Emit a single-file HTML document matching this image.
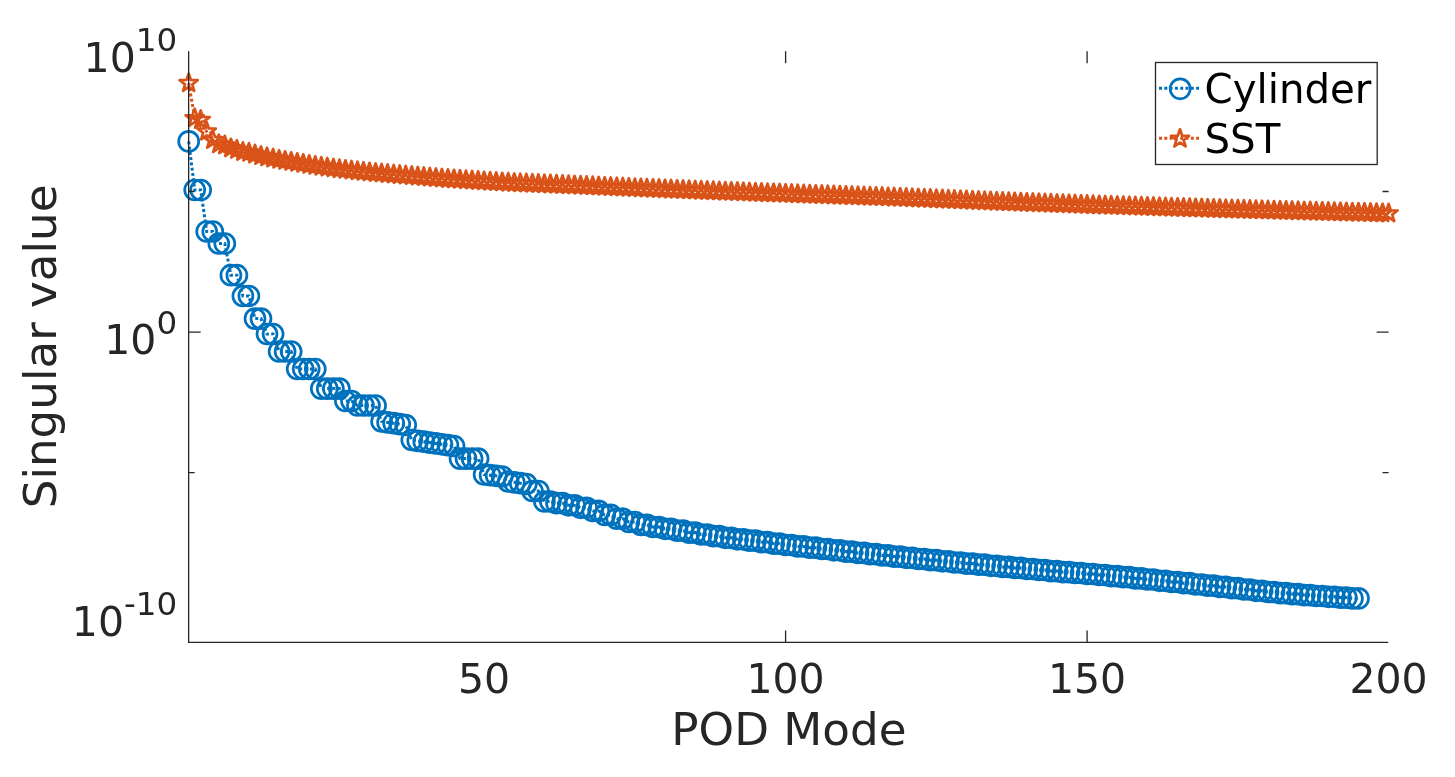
<!DOCTYPE html>
<html lang="en"><head><meta charset="utf-8"><title>Singular values vs POD Mode</title>
<style>html,body{margin:0;padding:0;background:#fff}body{width:1455px;height:777px;overflow:hidden}svg{display:block}text{font-family:"DejaVu Sans","Liberation Sans",sans-serif}</style>
</head><body>
<svg width="1455" height="777" viewBox="0 0 1455 777">
<rect width="1455" height="777" fill="#fff"/>
<g fill="none" stroke="#0072BD" stroke-width="2.7">
<polyline stroke-width="3" stroke-dasharray="3 2.3" points="188.7,141.4 194.7,190.0 200.7,190.0 206.7,231.5 212.8,231.5 218.8,243.5 224.8,243.5 230.9,275.2 236.9,275.2 242.9,296.0 248.9,296.0 255.0,318.6 261.0,318.6 267.0,334.0 273.1,334.0 279.1,351.5 285.1,351.5 291.2,351.5 297.2,369.0 303.2,369.0 309.2,369.0 315.3,369.0 321.3,388.6 327.3,388.6 333.4,388.6 339.4,388.6 345.4,401.0 351.5,401.0 357.5,405.5 363.5,405.5 369.5,405.5 375.6,405.5 381.6,421.5 387.6,422.4 393.7,423.2 399.7,424.1 405.7,425.0 411.8,440.0 417.8,440.9 423.8,441.7 429.8,442.6 435.9,443.4 441.9,444.3 447.9,445.1 454.0,446.0 460.0,458.6 466.0,458.6 472.1,458.6 478.1,458.6 484.1,474.5 490.1,475.2 496.2,475.8 502.2,476.5 508.2,481.5 514.3,482.3 520.3,483.2 526.3,484.0 532.4,491.0 538.4,491.0 544.4,501.5 550.4,501.5 556.5,503.2 562.5,503.2 568.5,505.3 574.6,505.3 580.6,507.8 586.6,507.8 592.7,510.9 598.7,510.9 604.7,514.9 610.7,514.9 616.8,518.7 622.8,518.7 628.8,522.0 634.9,522.0 640.9,524.9 646.9,524.9 653.0,527.0 659.0,527.0 665.0,528.8 671.0,528.8 677.1,530.6 683.1,530.6 689.1,532.6 695.2,532.6 701.2,534.5 707.2,534.5 713.3,536.2 719.3,536.2 725.3,537.8 731.3,537.8 737.4,539.3 743.4,539.3 749.4,540.7 755.5,540.7 761.5,542.1 767.5,542.1 773.6,543.6 779.6,543.6 785.6,545.0 791.6,545.0 797.7,546.4 803.7,546.4 809.7,547.7 815.8,547.7 821.8,549.0 827.8,549.0 833.8,550.3 839.9,550.3 845.9,551.6 851.9,551.6 858.0,552.9 864.0,552.9 870.0,554.1 876.1,554.1 882.1,555.4 888.1,555.4 894.1,556.6 900.2,556.6 906.2,557.8 912.2,557.8 918.3,559.0 924.3,559.0 930.3,560.2 936.4,560.2 942.4,561.3 948.4,561.3 954.4,562.5 960.5,562.5 966.5,563.6 972.5,563.6 978.6,564.7 984.6,564.7 990.6,565.8 996.7,565.8 1002.7,566.9 1008.7,566.9 1014.7,567.9 1020.8,567.9 1026.8,569.0 1032.8,569.0 1038.9,570.0 1044.9,570.0 1050.9,571.1 1057.0,571.1 1063.0,572.1 1069.0,572.1 1075.0,573.0 1081.1,573.0 1087.1,574.0 1093.1,574.0 1099.2,575.0 1105.2,575.0 1111.2,576.1 1117.3,576.1 1123.3,577.2 1129.3,577.2 1135.3,578.4 1141.4,578.4 1147.4,579.5 1153.4,579.5 1159.5,580.8 1165.5,580.8 1171.5,582.0 1177.6,582.0 1183.6,583.2 1189.6,583.2 1195.6,584.5 1201.7,584.5 1207.7,585.7 1213.7,585.7 1219.8,586.9 1225.8,586.9 1231.8,588.2 1237.9,588.2 1243.9,589.5 1249.9,589.5 1255.9,590.8 1262.0,590.8 1268.0,592.0 1274.0,592.0 1280.1,593.1 1286.1,593.1 1292.1,594.1 1298.2,594.1 1304.2,595.1 1310.2,595.1 1316.2,596.0 1322.3,596.0 1328.3,596.8 1334.3,596.8 1340.4,597.6 1346.4,597.6 1352.4,598.4 1358.5,598.4"/>
<circle cx="188.7" cy="141.4" r="10.0"/>
<circle cx="194.7" cy="190.0" r="10.0"/>
<circle cx="200.7" cy="190.0" r="10.0"/>
<circle cx="206.7" cy="231.5" r="10.0"/>
<circle cx="212.8" cy="231.5" r="10.0"/>
<circle cx="218.8" cy="243.5" r="10.0"/>
<circle cx="224.8" cy="243.5" r="10.0"/>
<circle cx="230.9" cy="275.2" r="10.0"/>
<circle cx="236.9" cy="275.2" r="10.0"/>
<circle cx="242.9" cy="296.0" r="10.0"/>
<circle cx="248.9" cy="296.0" r="10.0"/>
<circle cx="255.0" cy="318.6" r="10.0"/>
<circle cx="261.0" cy="318.6" r="10.0"/>
<circle cx="267.0" cy="334.0" r="10.0"/>
<circle cx="273.1" cy="334.0" r="10.0"/>
<circle cx="279.1" cy="351.5" r="10.0"/>
<circle cx="285.1" cy="351.5" r="10.0"/>
<circle cx="291.2" cy="351.5" r="10.0"/>
<circle cx="297.2" cy="369.0" r="10.0"/>
<circle cx="303.2" cy="369.0" r="10.0"/>
<circle cx="309.2" cy="369.0" r="10.0"/>
<circle cx="315.3" cy="369.0" r="10.0"/>
<circle cx="321.3" cy="388.6" r="10.0"/>
<circle cx="327.3" cy="388.6" r="10.0"/>
<circle cx="333.4" cy="388.6" r="10.0"/>
<circle cx="339.4" cy="388.6" r="10.0"/>
<circle cx="345.4" cy="401.0" r="10.0"/>
<circle cx="351.5" cy="401.0" r="10.0"/>
<circle cx="357.5" cy="405.5" r="10.0"/>
<circle cx="363.5" cy="405.5" r="10.0"/>
<circle cx="369.5" cy="405.5" r="10.0"/>
<circle cx="375.6" cy="405.5" r="10.0"/>
<circle cx="381.6" cy="421.5" r="10.0"/>
<circle cx="387.6" cy="422.4" r="10.0"/>
<circle cx="393.7" cy="423.2" r="10.0"/>
<circle cx="399.7" cy="424.1" r="10.0"/>
<circle cx="405.7" cy="425.0" r="10.0"/>
<circle cx="411.8" cy="440.0" r="10.0"/>
<circle cx="417.8" cy="440.9" r="10.0"/>
<circle cx="423.8" cy="441.7" r="10.0"/>
<circle cx="429.8" cy="442.6" r="10.0"/>
<circle cx="435.9" cy="443.4" r="10.0"/>
<circle cx="441.9" cy="444.3" r="10.0"/>
<circle cx="447.9" cy="445.1" r="10.0"/>
<circle cx="454.0" cy="446.0" r="10.0"/>
<circle cx="460.0" cy="458.6" r="10.0"/>
<circle cx="466.0" cy="458.6" r="10.0"/>
<circle cx="472.1" cy="458.6" r="10.0"/>
<circle cx="478.1" cy="458.6" r="10.0"/>
<circle cx="484.1" cy="474.5" r="10.0"/>
<circle cx="490.1" cy="475.2" r="10.0"/>
<circle cx="496.2" cy="475.8" r="10.0"/>
<circle cx="502.2" cy="476.5" r="10.0"/>
<circle cx="508.2" cy="481.5" r="10.0"/>
<circle cx="514.3" cy="482.3" r="10.0"/>
<circle cx="520.3" cy="483.2" r="10.0"/>
<circle cx="526.3" cy="484.0" r="10.0"/>
<circle cx="532.4" cy="491.0" r="10.0"/>
<circle cx="538.4" cy="491.0" r="10.0"/>
<circle cx="544.4" cy="501.5" r="10.0"/>
<circle cx="550.4" cy="501.5" r="10.0"/>
<circle cx="556.5" cy="503.2" r="10.0"/>
<circle cx="562.5" cy="503.2" r="10.0"/>
<circle cx="568.5" cy="505.3" r="10.0"/>
<circle cx="574.6" cy="505.3" r="10.0"/>
<circle cx="580.6" cy="507.8" r="10.0"/>
<circle cx="586.6" cy="507.8" r="10.0"/>
<circle cx="592.7" cy="510.9" r="10.0"/>
<circle cx="598.7" cy="510.9" r="10.0"/>
<circle cx="604.7" cy="514.9" r="10.0"/>
<circle cx="610.7" cy="514.9" r="10.0"/>
<circle cx="616.8" cy="518.7" r="10.0"/>
<circle cx="622.8" cy="518.7" r="10.0"/>
<circle cx="628.8" cy="522.0" r="10.0"/>
<circle cx="634.9" cy="522.0" r="10.0"/>
<circle cx="640.9" cy="524.9" r="10.0"/>
<circle cx="646.9" cy="524.9" r="10.0"/>
<circle cx="653.0" cy="527.0" r="10.0"/>
<circle cx="659.0" cy="527.0" r="10.0"/>
<circle cx="665.0" cy="528.8" r="10.0"/>
<circle cx="671.0" cy="528.8" r="10.0"/>
<circle cx="677.1" cy="530.6" r="10.0"/>
<circle cx="683.1" cy="530.6" r="10.0"/>
<circle cx="689.1" cy="532.6" r="10.0"/>
<circle cx="695.2" cy="532.6" r="10.0"/>
<circle cx="701.2" cy="534.5" r="10.0"/>
<circle cx="707.2" cy="534.5" r="10.0"/>
<circle cx="713.3" cy="536.2" r="10.0"/>
<circle cx="719.3" cy="536.2" r="10.0"/>
<circle cx="725.3" cy="537.8" r="10.0"/>
<circle cx="731.3" cy="537.8" r="10.0"/>
<circle cx="737.4" cy="539.3" r="10.0"/>
<circle cx="743.4" cy="539.3" r="10.0"/>
<circle cx="749.4" cy="540.7" r="10.0"/>
<circle cx="755.5" cy="540.7" r="10.0"/>
<circle cx="761.5" cy="542.1" r="10.0"/>
<circle cx="767.5" cy="542.1" r="10.0"/>
<circle cx="773.6" cy="543.6" r="10.0"/>
<circle cx="779.6" cy="543.6" r="10.0"/>
<circle cx="785.6" cy="545.0" r="10.0"/>
<circle cx="791.6" cy="545.0" r="10.0"/>
<circle cx="797.7" cy="546.4" r="10.0"/>
<circle cx="803.7" cy="546.4" r="10.0"/>
<circle cx="809.7" cy="547.7" r="10.0"/>
<circle cx="815.8" cy="547.7" r="10.0"/>
<circle cx="821.8" cy="549.0" r="10.0"/>
<circle cx="827.8" cy="549.0" r="10.0"/>
<circle cx="833.8" cy="550.3" r="10.0"/>
<circle cx="839.9" cy="550.3" r="10.0"/>
<circle cx="845.9" cy="551.6" r="10.0"/>
<circle cx="851.9" cy="551.6" r="10.0"/>
<circle cx="858.0" cy="552.9" r="10.0"/>
<circle cx="864.0" cy="552.9" r="10.0"/>
<circle cx="870.0" cy="554.1" r="10.0"/>
<circle cx="876.1" cy="554.1" r="10.0"/>
<circle cx="882.1" cy="555.4" r="10.0"/>
<circle cx="888.1" cy="555.4" r="10.0"/>
<circle cx="894.1" cy="556.6" r="10.0"/>
<circle cx="900.2" cy="556.6" r="10.0"/>
<circle cx="906.2" cy="557.8" r="10.0"/>
<circle cx="912.2" cy="557.8" r="10.0"/>
<circle cx="918.3" cy="559.0" r="10.0"/>
<circle cx="924.3" cy="559.0" r="10.0"/>
<circle cx="930.3" cy="560.2" r="10.0"/>
<circle cx="936.4" cy="560.2" r="10.0"/>
<circle cx="942.4" cy="561.3" r="10.0"/>
<circle cx="948.4" cy="561.3" r="10.0"/>
<circle cx="954.4" cy="562.5" r="10.0"/>
<circle cx="960.5" cy="562.5" r="10.0"/>
<circle cx="966.5" cy="563.6" r="10.0"/>
<circle cx="972.5" cy="563.6" r="10.0"/>
<circle cx="978.6" cy="564.7" r="10.0"/>
<circle cx="984.6" cy="564.7" r="10.0"/>
<circle cx="990.6" cy="565.8" r="10.0"/>
<circle cx="996.7" cy="565.8" r="10.0"/>
<circle cx="1002.7" cy="566.9" r="10.0"/>
<circle cx="1008.7" cy="566.9" r="10.0"/>
<circle cx="1014.7" cy="567.9" r="10.0"/>
<circle cx="1020.8" cy="567.9" r="10.0"/>
<circle cx="1026.8" cy="569.0" r="10.0"/>
<circle cx="1032.8" cy="569.0" r="10.0"/>
<circle cx="1038.9" cy="570.0" r="10.0"/>
<circle cx="1044.9" cy="570.0" r="10.0"/>
<circle cx="1050.9" cy="571.1" r="10.0"/>
<circle cx="1057.0" cy="571.1" r="10.0"/>
<circle cx="1063.0" cy="572.1" r="10.0"/>
<circle cx="1069.0" cy="572.1" r="10.0"/>
<circle cx="1075.0" cy="573.0" r="10.0"/>
<circle cx="1081.1" cy="573.0" r="10.0"/>
<circle cx="1087.1" cy="574.0" r="10.0"/>
<circle cx="1093.1" cy="574.0" r="10.0"/>
<circle cx="1099.2" cy="575.0" r="10.0"/>
<circle cx="1105.2" cy="575.0" r="10.0"/>
<circle cx="1111.2" cy="576.1" r="10.0"/>
<circle cx="1117.3" cy="576.1" r="10.0"/>
<circle cx="1123.3" cy="577.2" r="10.0"/>
<circle cx="1129.3" cy="577.2" r="10.0"/>
<circle cx="1135.3" cy="578.4" r="10.0"/>
<circle cx="1141.4" cy="578.4" r="10.0"/>
<circle cx="1147.4" cy="579.5" r="10.0"/>
<circle cx="1153.4" cy="579.5" r="10.0"/>
<circle cx="1159.5" cy="580.8" r="10.0"/>
<circle cx="1165.5" cy="580.8" r="10.0"/>
<circle cx="1171.5" cy="582.0" r="10.0"/>
<circle cx="1177.6" cy="582.0" r="10.0"/>
<circle cx="1183.6" cy="583.2" r="10.0"/>
<circle cx="1189.6" cy="583.2" r="10.0"/>
<circle cx="1195.6" cy="584.5" r="10.0"/>
<circle cx="1201.7" cy="584.5" r="10.0"/>
<circle cx="1207.7" cy="585.7" r="10.0"/>
<circle cx="1213.7" cy="585.7" r="10.0"/>
<circle cx="1219.8" cy="586.9" r="10.0"/>
<circle cx="1225.8" cy="586.9" r="10.0"/>
<circle cx="1231.8" cy="588.2" r="10.0"/>
<circle cx="1237.9" cy="588.2" r="10.0"/>
<circle cx="1243.9" cy="589.5" r="10.0"/>
<circle cx="1249.9" cy="589.5" r="10.0"/>
<circle cx="1255.9" cy="590.8" r="10.0"/>
<circle cx="1262.0" cy="590.8" r="10.0"/>
<circle cx="1268.0" cy="592.0" r="10.0"/>
<circle cx="1274.0" cy="592.0" r="10.0"/>
<circle cx="1280.1" cy="593.1" r="10.0"/>
<circle cx="1286.1" cy="593.1" r="10.0"/>
<circle cx="1292.1" cy="594.1" r="10.0"/>
<circle cx="1298.2" cy="594.1" r="10.0"/>
<circle cx="1304.2" cy="595.1" r="10.0"/>
<circle cx="1310.2" cy="595.1" r="10.0"/>
<circle cx="1316.2" cy="596.0" r="10.0"/>
<circle cx="1322.3" cy="596.0" r="10.0"/>
<circle cx="1328.3" cy="596.8" r="10.0"/>
<circle cx="1334.3" cy="596.8" r="10.0"/>
<circle cx="1340.4" cy="597.6" r="10.0"/>
<circle cx="1346.4" cy="597.6" r="10.0"/>
<circle cx="1352.4" cy="598.4" r="10.0"/>
<circle cx="1358.5" cy="598.4" r="10.0"/>
</g>
<g fill="none" stroke="#D95319">
<polyline stroke-width="3" stroke-dasharray="3 2.3" points="188.7,83.1 194.7,118.2 200.7,120.0 206.7,131.6 212.8,140.0 218.8,144.2 224.8,145.4 230.9,148.3 236.9,149.8 242.9,151.9 248.9,152.6 255.0,154.5 261.0,156.0 267.0,157.3 273.1,158.5 279.1,159.7 285.1,160.8 291.2,161.8 297.2,162.8 303.2,163.8 309.2,164.8 315.3,165.8 321.3,166.7 327.3,167.5 333.4,168.4 339.4,169.1 345.4,169.8 351.5,170.5 357.5,171.2 363.5,171.8 369.5,172.3 375.6,172.9 381.6,173.4 387.6,173.9 393.7,174.5 399.7,175.0 405.7,175.5 411.8,176.0 417.8,176.5 423.8,177.0 429.8,177.5 435.9,178.0 441.9,178.5 447.9,178.9 454.0,179.3 460.0,179.7 466.0,180.1 472.1,180.5 478.1,180.9 484.1,181.3 490.1,181.6 496.2,182.0 502.2,182.3 508.2,182.6 514.3,182.9 520.3,183.2 526.3,183.4 532.4,183.7 538.4,183.9 544.4,184.2 550.4,184.4 556.5,184.6 562.5,184.9 568.5,185.1 574.6,185.4 580.6,185.6 586.6,185.9 592.7,186.1 598.7,186.4 604.7,186.7 610.7,187.0 616.8,187.2 622.8,187.5 628.8,187.8 634.9,188.1 640.9,188.3 646.9,188.6 653.0,188.8 659.0,189.0 665.0,189.3 671.0,189.5 677.1,189.8 683.1,190.0 689.1,190.2 695.2,190.5 701.2,190.7 707.2,190.9 713.3,191.1 719.3,191.4 725.3,191.6 731.3,191.8 737.4,192.0 743.4,192.2 749.4,192.5 755.5,192.7 761.5,192.9 767.5,193.1 773.6,193.3 779.6,193.5 785.6,193.8 791.6,194.0 797.7,194.2 803.7,194.4 809.7,194.6 815.8,194.8 821.8,195.0 827.8,195.2 833.8,195.4 839.9,195.6 845.9,195.8 851.9,196.0 858.0,196.2 864.0,196.4 870.0,196.6 876.1,196.8 882.1,197.0 888.1,197.3 894.1,197.5 900.2,197.7 906.2,197.9 912.2,198.2 918.3,198.4 924.3,198.7 930.3,198.9 936.4,199.2 942.4,199.4 948.4,199.7 954.4,199.9 960.5,200.2 966.5,200.4 972.5,200.7 978.6,201.0 984.6,201.2 990.6,201.4 996.7,201.7 1002.7,201.9 1008.7,202.1 1014.7,202.3 1020.8,202.6 1026.8,202.8 1032.8,203.0 1038.9,203.2 1044.9,203.4 1050.9,203.6 1057.0,203.9 1063.0,204.1 1069.0,204.3 1075.0,204.5 1081.1,204.7 1087.1,204.9 1093.1,205.1 1099.2,205.3 1105.2,205.5 1111.2,205.7 1117.3,205.9 1123.3,206.1 1129.3,206.3 1135.3,206.4 1141.4,206.6 1147.4,206.8 1153.4,207.0 1159.5,207.2 1165.5,207.4 1171.5,207.6 1177.6,207.8 1183.6,208.0 1189.6,208.1 1195.6,208.3 1201.7,208.5 1207.7,208.7 1213.7,208.9 1219.8,209.0 1225.8,209.2 1231.8,209.4 1237.9,209.6 1243.9,209.7 1249.9,209.9 1255.9,210.1 1262.0,210.2 1268.0,210.4 1274.0,210.6 1280.1,210.7 1286.1,210.9 1292.1,211.0 1298.2,211.2 1304.2,211.4 1310.2,211.5 1316.2,211.7 1322.3,211.8 1328.3,212.0 1334.3,212.1 1340.4,212.3 1346.4,212.4 1352.4,212.6 1358.5,212.7 1364.5,212.8 1370.5,213.0 1376.5,213.1 1382.6,213.3 1388.6,213.4"/>
<path stroke-width="2.7" stroke-linejoin="round" d="M188.7,73.6L190.9,80.0L197.7,80.2L192.3,84.3L194.2,90.8L188.7,86.9L183.1,90.8L185.0,84.3L179.6,80.2L186.4,80.0ZM194.7,108.7L196.9,115.1L203.7,115.3L198.3,119.4L200.3,125.9L194.7,122.0L189.1,125.9L191.1,119.4L185.6,115.3L192.4,115.1ZM200.7,110.5L202.9,116.9L209.7,117.1L204.3,121.2L206.3,127.7L200.7,123.8L195.1,127.7L197.1,121.2L191.7,117.1L198.5,116.9ZM206.7,122.1L209.0,128.5L215.8,128.7L210.4,132.8L212.3,139.3L206.7,135.4L201.2,139.3L203.1,132.8L197.7,128.7L204.5,128.5ZM212.8,130.5L215.0,136.9L221.8,137.1L216.4,141.2L218.4,147.7L212.8,143.8L207.2,147.7L209.2,141.2L203.7,137.1L210.5,136.9ZM218.8,134.7L221.0,141.1L227.8,141.3L222.4,145.4L224.4,151.9L218.8,148.0L213.2,151.9L215.2,145.4L209.8,141.3L216.6,141.1ZM224.8,135.9L227.1,142.3L233.9,142.5L228.4,146.6L230.4,153.1L224.8,149.2L219.2,153.1L221.2,146.6L215.8,142.5L222.6,142.3ZM230.9,138.8L233.1,145.2L239.9,145.4L234.5,149.5L236.4,156.0L230.9,152.1L225.3,156.0L227.2,149.5L221.8,145.4L228.6,145.2ZM236.9,140.3L239.1,146.7L245.9,146.9L240.5,151.0L242.5,157.5L236.9,153.6L231.3,157.5L233.3,151.0L227.9,146.9L234.7,146.7ZM242.9,142.4L245.2,148.8L252.0,149.0L246.5,153.1L248.5,159.6L242.9,155.7L237.3,159.6L239.3,153.1L233.9,149.0L240.7,148.8ZM248.9,143.1L251.2,149.5L258.0,149.7L252.6,153.8L254.5,160.3L248.9,156.4L243.4,160.3L245.3,153.8L239.9,149.7L246.7,149.5ZM255.0,145.0L257.2,151.4L264.0,151.6L258.6,155.7L260.6,162.2L255.0,158.3L249.4,162.2L251.4,155.7L245.9,151.6L252.7,151.4ZM261.0,146.5L263.2,152.9L270.0,153.0L264.6,157.2L266.6,163.7L261.0,159.8L255.4,163.7L257.4,157.2L252.0,153.0L258.8,152.9ZM267.0,147.8L269.3,154.2L276.1,154.4L270.7,158.5L272.6,165.0L267.0,161.1L261.5,165.0L263.4,158.5L258.0,154.4L264.8,154.2ZM273.1,149.0L275.3,155.5L282.1,155.6L276.7,159.7L278.7,166.2L273.1,162.3L267.5,166.2L269.5,159.7L264.0,155.6L270.8,155.5ZM279.1,150.2L281.3,156.6L288.1,156.7L282.7,160.8L284.7,167.4L279.1,163.5L273.5,167.4L275.5,160.8L270.1,156.7L276.9,156.6ZM285.1,151.3L287.4,157.7L294.2,157.8L288.7,161.9L290.7,168.4L285.1,164.6L279.5,168.4L281.5,161.9L276.1,157.8L282.9,157.7ZM291.2,152.3L293.4,158.7L300.2,158.9L294.8,163.0L296.7,169.5L291.2,165.6L285.6,169.5L287.5,163.0L282.1,158.9L288.9,158.7ZM297.2,153.3L299.4,159.8L306.2,159.9L300.8,164.0L302.8,170.5L297.2,166.6L291.6,170.5L293.6,164.0L288.2,159.9L295.0,159.8ZM303.2,154.3L305.5,160.8L312.3,160.9L306.8,165.0L308.8,171.5L303.2,167.6L297.6,171.5L299.6,165.0L294.2,160.9L301.0,160.8ZM309.2,155.3L311.5,161.7L318.3,161.9L312.9,166.0L314.8,172.5L309.2,168.6L303.7,172.5L305.6,166.0L300.2,161.9L307.0,161.7ZM315.3,156.3L317.5,162.7L324.3,162.8L318.9,166.9L320.9,173.4L315.3,169.6L309.7,173.4L311.7,166.9L306.2,162.8L313.0,162.7ZM321.3,157.2L323.5,163.6L330.3,163.7L324.9,167.8L326.9,174.4L321.3,170.5L315.7,174.4L317.7,167.8L312.3,163.7L319.1,163.6ZM327.3,158.0L329.6,164.5L336.4,164.6L331.0,168.7L332.9,175.2L327.3,171.3L321.8,175.2L323.7,168.7L318.3,164.6L325.1,164.5ZM333.4,158.9L335.6,165.3L342.4,165.4L337.0,169.5L339.0,176.0L333.4,172.2L327.8,176.0L329.8,169.5L324.3,165.4L331.1,165.3ZM339.4,159.6L341.6,166.1L348.4,166.2L343.0,170.3L345.0,176.8L339.4,172.9L333.8,176.8L335.8,170.3L330.4,166.2L337.2,166.1ZM345.4,160.3L347.7,166.8L354.5,166.9L349.0,171.0L351.0,177.5L345.4,173.6L339.8,177.5L341.8,171.0L336.4,166.9L343.2,166.8ZM351.5,161.0L353.7,167.4L360.5,167.6L355.1,171.7L357.0,178.2L351.5,174.3L345.9,178.2L347.8,171.7L342.4,167.6L349.2,167.4ZM357.5,161.7L359.7,168.1L366.5,168.2L361.1,172.3L363.1,178.8L357.5,175.0L351.9,178.8L353.9,172.3L348.5,168.2L355.3,168.1ZM363.5,162.3L365.8,168.7L372.6,168.8L367.1,172.9L369.1,179.4L363.5,175.6L357.9,179.4L359.9,172.9L354.5,168.8L361.3,168.7ZM369.5,162.8L371.8,169.3L378.6,169.4L373.2,173.5L375.1,180.0L369.5,176.1L364.0,180.0L365.9,173.5L360.5,169.4L367.3,169.3ZM375.6,163.4L377.8,169.8L384.6,169.9L379.2,174.1L381.2,180.6L375.6,176.7L370.0,180.6L372.0,174.1L366.5,169.9L373.3,169.8ZM381.6,163.9L383.8,170.3L390.6,170.5L385.2,174.6L387.2,181.1L381.6,177.2L376.0,181.1L378.0,174.6L372.6,170.5L379.4,170.3ZM387.6,164.4L389.9,170.9L396.7,171.0L391.3,175.1L393.2,181.6L387.6,177.7L382.1,181.6L384.0,175.1L378.6,171.0L385.4,170.9ZM393.7,165.0L395.9,171.4L402.7,171.5L397.3,175.6L399.3,182.1L393.7,178.3L388.1,182.1L390.1,175.6L384.6,171.5L391.4,171.4ZM399.7,165.5L401.9,171.9L408.7,172.0L403.3,176.1L405.3,182.7L399.7,178.8L394.1,182.7L396.1,176.1L390.7,172.0L397.5,171.9ZM405.7,166.0L408.0,172.4L414.8,172.6L409.3,176.7L411.3,183.2L405.7,179.3L400.1,183.2L402.1,176.7L396.7,172.6L403.5,172.4ZM411.8,166.5L414.0,172.9L420.8,173.1L415.4,177.2L417.3,183.7L411.8,179.8L406.2,183.7L408.1,177.2L402.7,173.1L409.5,172.9ZM417.8,167.0L420.0,173.4L426.8,173.6L421.4,177.7L423.4,184.2L417.8,180.3L412.2,184.2L414.2,177.7L408.8,173.6L415.6,173.4ZM423.8,167.5L426.0,173.9L432.9,174.1L427.4,178.2L429.4,184.7L423.8,180.8L418.2,184.7L420.2,178.2L414.8,174.1L421.6,173.9ZM429.8,168.0L432.1,174.4L438.9,174.6L433.5,178.7L435.4,185.2L429.8,181.3L424.3,185.2L426.2,178.7L420.8,174.6L427.6,174.4ZM435.9,168.5L438.1,174.9L444.9,175.1L439.5,179.2L441.5,185.7L435.9,181.8L430.3,185.7L432.3,179.2L426.8,175.1L433.6,174.9ZM441.9,169.0L444.1,175.4L450.9,175.5L445.5,179.6L447.5,186.1L441.9,182.3L436.3,186.1L438.3,179.6L432.9,175.5L439.7,175.4ZM447.9,169.4L450.2,175.8L457.0,176.0L451.5,180.1L453.5,186.6L447.9,182.7L442.4,186.6L444.3,180.1L438.9,176.0L445.7,175.8ZM454.0,169.8L456.2,176.3L463.0,176.4L457.6,180.5L459.5,187.0L454.0,183.1L448.4,187.0L450.4,180.5L444.9,176.4L451.7,176.3ZM460.0,170.2L462.2,176.7L469.0,176.8L463.6,180.9L465.6,187.4L460.0,183.5L454.4,187.4L456.4,180.9L451.0,176.8L457.8,176.7ZM466.0,170.6L468.3,177.1L475.1,177.2L469.6,181.3L471.6,187.8L466.0,183.9L460.4,187.8L462.4,181.3L457.0,177.2L463.8,177.1ZM472.1,171.0L474.3,177.5L481.1,177.6L475.7,181.7L477.6,188.2L472.1,184.3L466.5,188.2L468.4,181.7L463.0,177.6L469.8,177.5ZM478.1,171.4L480.3,177.8L487.1,178.0L481.7,182.1L483.7,188.6L478.1,184.7L472.5,188.6L474.5,182.1L469.1,178.0L475.9,177.8ZM484.1,171.8L486.3,178.2L493.2,178.3L487.7,182.5L489.7,189.0L484.1,185.1L478.5,189.0L480.5,182.5L475.1,178.3L481.9,178.2ZM490.1,172.1L492.4,178.6L499.2,178.7L493.8,182.8L495.7,189.3L490.1,185.4L484.6,189.3L486.5,182.8L481.1,178.7L487.9,178.6ZM496.2,172.5L498.4,178.9L505.2,179.0L499.8,183.2L501.8,189.7L496.2,185.8L490.6,189.7L492.6,183.2L487.1,179.0L493.9,178.9ZM502.2,172.8L504.4,179.2L511.2,179.4L505.8,183.5L507.8,190.0L502.2,186.1L496.6,190.0L498.6,183.5L493.2,179.4L500.0,179.2ZM508.2,173.1L510.5,179.5L517.3,179.7L511.8,183.8L513.8,190.3L508.2,186.4L502.7,190.3L504.6,183.8L499.2,179.7L506.0,179.5ZM514.3,173.4L516.5,179.8L523.3,180.0L517.9,184.1L519.8,190.6L514.3,186.7L508.7,190.6L510.7,184.1L505.2,180.0L512.0,179.8ZM520.3,173.7L522.5,180.1L529.3,180.2L523.9,184.4L525.9,190.9L520.3,187.0L514.7,190.9L516.7,184.4L511.3,180.2L518.1,180.1ZM526.3,173.9L528.6,180.4L535.4,180.5L529.9,184.6L531.9,191.1L526.3,187.2L520.7,191.1L522.7,184.6L517.3,180.5L524.1,180.4ZM532.4,174.2L534.6,180.6L541.4,180.8L536.0,184.9L537.9,191.4L532.4,187.5L526.8,191.4L528.7,184.9L523.3,180.8L530.1,180.6ZM538.4,174.4L540.6,180.9L547.4,181.0L542.0,185.1L544.0,191.6L538.4,187.7L532.8,191.6L534.8,185.1L529.3,181.0L536.2,180.9ZM544.4,174.7L546.6,181.1L553.4,181.2L548.0,185.3L550.0,191.9L544.4,188.0L538.8,191.9L540.8,185.3L535.4,181.2L542.2,181.1ZM550.4,174.9L552.7,181.3L559.5,181.5L554.1,185.6L556.0,192.1L550.4,188.2L544.9,192.1L546.8,185.6L541.4,181.5L548.2,181.3ZM556.5,175.1L558.7,181.6L565.5,181.7L560.1,185.8L562.1,192.3L556.5,188.4L550.9,192.3L552.9,185.8L547.4,181.7L554.2,181.6ZM562.5,175.4L564.7,181.8L571.5,181.9L566.1,186.0L568.1,192.6L562.5,188.7L556.9,192.6L558.9,186.0L553.5,181.9L560.3,181.8ZM568.5,175.6L570.8,182.0L577.6,182.2L572.1,186.3L574.1,192.8L568.5,188.9L562.9,192.8L564.9,186.3L559.5,182.2L566.3,182.0ZM574.6,175.9L576.8,182.3L583.6,182.4L578.2,186.5L580.1,193.0L574.6,189.2L569.0,193.0L570.9,186.5L565.5,182.4L572.3,182.3ZM580.6,176.1L582.8,182.5L589.6,182.7L584.2,186.8L586.2,193.3L580.6,189.4L575.0,193.3L577.0,186.8L571.6,182.7L578.4,182.5ZM586.6,176.4L588.9,182.8L595.7,182.9L590.2,187.1L592.2,193.6L586.6,189.7L581.0,193.6L583.0,187.1L577.6,182.9L584.4,182.8ZM592.7,176.6L594.9,183.1L601.7,183.2L596.3,187.3L598.2,193.8L592.7,189.9L587.1,193.8L589.0,187.3L583.6,183.2L590.4,183.1ZM598.7,176.9L600.9,183.3L607.7,183.5L602.3,187.6L604.3,194.1L598.7,190.2L593.1,194.1L595.1,187.6L589.6,183.5L596.4,183.3ZM604.7,177.2L606.9,183.6L613.7,183.8L608.3,187.9L610.3,194.4L604.7,190.5L599.1,194.4L601.1,187.9L595.7,183.8L602.5,183.6ZM610.7,177.5L613.0,183.9L619.8,184.0L614.4,188.1L616.3,194.7L610.7,190.8L605.2,194.7L607.1,188.1L601.7,184.0L608.5,183.9ZM616.8,177.7L619.0,184.2L625.8,184.3L620.4,188.4L622.4,194.9L616.8,191.0L611.2,194.9L613.2,188.4L607.7,184.3L614.5,184.2ZM622.8,178.0L625.0,184.4L631.8,184.6L626.4,188.7L628.4,195.2L622.8,191.3L617.2,195.2L619.2,188.7L613.8,184.6L620.6,184.4ZM628.8,178.3L631.1,184.7L637.9,184.9L632.4,189.0L634.4,195.5L628.8,191.6L623.2,195.5L625.2,189.0L619.8,184.9L626.6,184.7ZM634.9,178.6L637.1,185.0L643.9,185.1L638.5,189.2L640.4,195.7L634.9,191.9L629.3,195.7L631.2,189.2L625.8,185.1L632.6,185.0ZM640.9,178.8L643.1,185.2L649.9,185.4L644.5,189.5L646.5,196.0L640.9,192.1L635.3,196.0L637.3,189.5L631.9,185.4L638.7,185.2ZM646.9,179.1L649.2,185.5L656.0,185.6L650.5,189.7L652.5,196.2L646.9,192.4L641.3,196.2L643.3,189.7L637.9,185.6L644.7,185.5ZM653.0,179.3L655.2,185.7L662.0,185.9L656.6,190.0L658.5,196.5L653.0,192.6L647.4,196.5L649.3,190.0L643.9,185.9L650.7,185.7ZM659.0,179.5L661.2,186.0L668.0,186.1L662.6,190.2L664.6,196.7L659.0,192.8L653.4,196.7L655.4,190.2L649.9,186.1L656.7,186.0ZM665.0,179.8L667.2,186.2L674.0,186.4L668.6,190.5L670.6,197.0L665.0,193.1L659.4,197.0L661.4,190.5L656.0,186.4L662.8,186.2ZM671.0,180.0L673.3,186.5L680.1,186.6L674.7,190.7L676.6,197.2L671.0,193.3L665.5,197.2L667.4,190.7L662.0,186.6L668.8,186.5ZM677.1,180.3L679.3,186.7L686.1,186.8L680.7,190.9L682.7,197.4L677.1,193.6L671.5,197.4L673.5,190.9L668.0,186.8L674.8,186.7ZM683.1,180.5L685.3,186.9L692.1,187.1L686.7,191.2L688.7,197.7L683.1,193.8L677.5,197.7L679.5,191.2L674.1,187.1L680.9,186.9ZM689.1,180.7L691.4,187.2L698.2,187.3L692.7,191.4L694.7,197.9L689.1,194.0L683.5,197.9L685.5,191.4L680.1,187.3L686.9,187.2ZM695.2,181.0L697.4,187.4L704.2,187.5L698.8,191.6L700.7,198.1L695.2,194.3L689.6,198.1L691.5,191.6L686.1,187.5L692.9,187.4ZM701.2,181.2L703.4,187.6L710.2,187.7L704.8,191.9L706.8,198.4L701.2,194.5L695.6,198.4L697.6,191.9L692.2,187.7L699.0,187.6ZM707.2,181.4L709.5,187.8L716.3,188.0L710.8,192.1L712.8,198.6L707.2,194.7L701.6,198.6L703.6,192.1L698.2,188.0L705.0,187.8ZM713.3,181.6L715.5,188.1L722.3,188.2L716.9,192.3L718.8,198.8L713.3,194.9L707.7,198.8L709.6,192.3L704.2,188.2L711.0,188.1ZM719.3,181.9L721.5,188.3L728.3,188.4L722.9,192.5L724.9,199.0L719.3,195.2L713.7,199.0L715.7,192.5L710.2,188.4L717.0,188.3ZM725.3,182.1L727.5,188.5L734.3,188.6L728.9,192.8L730.9,199.3L725.3,195.4L719.7,199.3L721.7,192.8L716.3,188.6L723.1,188.5ZM731.3,182.3L733.6,188.7L740.4,188.9L735.0,193.0L736.9,199.5L731.3,195.6L725.8,199.5L727.7,193.0L722.3,188.9L729.1,188.7ZM737.4,182.5L739.6,188.9L746.4,189.1L741.0,193.2L743.0,199.7L737.4,195.8L731.8,199.7L733.8,193.2L728.3,189.1L735.1,188.9ZM743.4,182.7L745.6,189.2L752.4,189.3L747.0,193.4L749.0,199.9L743.4,196.0L737.8,199.9L739.8,193.4L734.4,189.3L741.2,189.2ZM749.4,183.0L751.7,189.4L758.5,189.5L753.0,193.6L755.0,200.1L749.4,196.3L743.8,200.1L745.8,193.6L740.4,189.5L747.2,189.4ZM755.5,183.2L757.7,189.6L764.5,189.7L759.1,193.8L761.0,200.4L755.5,196.5L749.9,200.4L751.8,193.8L746.4,189.7L753.2,189.6ZM761.5,183.4L763.7,189.8L770.5,190.0L765.1,194.1L767.1,200.6L761.5,196.7L755.9,200.6L757.9,194.1L752.5,190.0L759.3,189.8ZM767.5,183.6L769.8,190.0L776.6,190.2L771.1,194.3L773.1,200.8L767.5,196.9L761.9,200.8L763.9,194.3L758.5,190.2L765.3,190.0ZM773.6,183.8L775.8,190.3L782.6,190.4L777.2,194.5L779.1,201.0L773.6,197.1L768.0,201.0L769.9,194.5L764.5,190.4L771.3,190.3ZM779.6,184.0L781.8,190.5L788.6,190.6L783.2,194.7L785.2,201.2L779.6,197.3L774.0,201.2L776.0,194.7L770.5,190.6L777.3,190.5ZM785.6,184.3L787.8,190.7L794.6,190.8L789.2,194.9L791.2,201.4L785.6,197.6L780.0,201.4L782.0,194.9L776.6,190.8L783.4,190.7ZM791.6,184.5L793.9,190.9L800.7,191.0L795.3,195.1L797.2,201.6L791.6,197.8L786.1,201.6L788.0,195.1L782.6,191.0L789.4,190.9ZM797.7,184.7L799.9,191.1L806.7,191.2L801.3,195.3L803.3,201.9L797.7,198.0L792.1,201.9L794.1,195.3L788.6,191.2L795.4,191.1ZM803.7,184.9L805.9,191.3L812.7,191.4L807.3,195.5L809.3,202.1L803.7,198.2L798.1,202.1L800.1,195.5L794.7,191.4L801.5,191.3ZM809.7,185.1L812.0,191.5L818.8,191.6L813.3,195.8L815.3,202.3L809.7,198.4L804.1,202.3L806.1,195.8L800.7,191.6L807.5,191.5ZM815.8,185.3L818.0,191.7L824.8,191.8L819.4,196.0L821.3,202.5L815.8,198.6L810.2,202.5L812.1,196.0L806.7,191.8L813.5,191.7ZM821.8,185.5L824.0,191.9L830.8,192.0L825.4,196.2L827.4,202.7L821.8,198.8L816.2,202.7L818.2,196.2L812.8,192.0L819.6,191.9ZM827.8,185.7L830.1,192.1L836.9,192.2L831.4,196.4L833.4,202.9L827.8,199.0L822.2,202.9L824.2,196.4L818.8,192.2L825.6,192.1ZM833.8,185.9L836.1,192.3L842.9,192.5L837.5,196.6L839.4,203.1L833.8,199.2L828.3,203.1L830.2,196.6L824.8,192.5L831.6,192.3ZM839.9,186.1L842.1,192.5L848.9,192.7L843.5,196.8L845.5,203.3L839.9,199.4L834.3,203.3L836.3,196.8L830.8,192.7L837.6,192.5ZM845.9,186.3L848.1,192.7L854.9,192.9L849.5,197.0L851.5,203.5L845.9,199.6L840.3,203.5L842.3,197.0L836.9,192.9L843.7,192.7ZM851.9,186.5L854.2,192.9L861.0,193.1L855.6,197.2L857.5,203.7L851.9,199.8L846.4,203.7L848.3,197.2L842.9,193.1L849.7,192.9ZM858.0,186.7L860.2,193.1L867.0,193.3L861.6,197.4L863.6,203.9L858.0,200.0L852.4,203.9L854.4,197.4L848.9,193.3L855.7,193.1ZM864.0,186.9L866.2,193.3L873.0,193.5L867.6,197.6L869.6,204.1L864.0,200.2L858.4,204.1L860.4,197.6L855.0,193.5L861.8,193.3ZM870.0,187.1L872.3,193.5L879.1,193.7L873.6,197.8L875.6,204.3L870.0,200.4L864.4,204.3L866.4,197.8L861.0,193.7L867.8,193.5ZM876.1,187.3L878.3,193.8L885.1,193.9L879.7,198.0L881.6,204.5L876.1,200.6L870.5,204.5L872.4,198.0L867.0,193.9L873.8,193.8ZM882.1,187.5L884.3,194.0L891.1,194.1L885.7,198.2L887.7,204.7L882.1,200.8L876.5,204.7L878.5,198.2L873.1,194.1L879.9,194.0ZM888.1,187.8L890.4,194.2L897.2,194.3L891.7,198.4L893.7,204.9L888.1,201.1L882.5,204.9L884.5,198.4L879.1,194.3L885.9,194.2ZM894.1,188.0L896.4,194.4L903.2,194.5L897.8,198.7L899.7,205.2L894.1,201.3L888.6,205.2L890.5,198.7L885.1,194.5L891.9,194.4ZM900.2,188.2L902.4,194.6L909.2,194.8L903.8,198.9L905.8,205.4L900.2,201.5L894.6,205.4L896.6,198.9L891.1,194.8L897.9,194.6ZM906.2,188.4L908.4,194.9L915.2,195.0L909.8,199.1L911.8,205.6L906.2,201.7L900.6,205.6L902.6,199.1L897.2,195.0L904.0,194.9ZM912.2,188.7L914.5,195.1L921.3,195.2L915.9,199.3L917.8,205.9L912.2,202.0L906.7,205.9L908.6,199.3L903.2,195.2L910.0,195.1ZM918.3,188.9L920.5,195.3L927.3,195.5L921.9,199.6L923.9,206.1L918.3,202.2L912.7,206.1L914.7,199.6L909.2,195.5L916.0,195.3ZM924.3,189.2L926.5,195.6L933.3,195.7L927.9,199.8L929.9,206.4L924.3,202.5L918.7,206.4L920.7,199.8L915.3,195.7L922.1,195.6ZM930.3,189.4L932.6,195.8L939.4,196.0L933.9,200.1L935.9,206.6L930.3,202.7L924.7,206.6L926.7,200.1L921.3,196.0L928.1,195.8ZM936.4,189.7L938.6,196.1L945.4,196.2L940.0,200.3L941.9,206.9L936.4,203.0L930.8,206.9L932.7,200.3L927.3,196.2L934.1,196.1ZM942.4,189.9L944.6,196.4L951.4,196.5L946.0,200.6L948.0,207.1L942.4,203.2L936.8,207.1L938.8,200.6L933.4,196.5L940.2,196.4ZM948.4,190.2L950.7,196.6L957.5,196.7L952.0,200.9L954.0,207.4L948.4,203.5L942.8,207.4L944.8,200.9L939.4,196.7L946.2,196.6ZM954.4,190.4L956.7,196.9L963.5,197.0L958.1,201.1L960.0,207.6L954.4,203.7L948.9,207.6L950.8,201.1L945.4,197.0L952.2,196.9ZM960.5,190.7L962.7,197.1L969.5,197.3L964.1,201.4L966.1,207.9L960.5,204.0L954.9,207.9L956.9,201.4L951.4,197.3L958.2,197.1ZM966.5,190.9L968.7,197.4L975.5,197.5L970.1,201.6L972.1,208.1L966.5,204.2L960.9,208.1L962.9,201.6L957.5,197.5L964.3,197.4ZM972.5,191.2L974.8,197.6L981.6,197.8L976.2,201.9L978.1,208.4L972.5,204.5L967.0,208.4L968.9,201.9L963.5,197.8L970.3,197.6ZM978.6,191.5L980.8,197.9L987.6,198.0L982.2,202.1L984.2,208.6L978.6,204.8L973.0,208.6L975.0,202.1L969.5,198.0L976.3,197.9ZM984.6,191.7L986.8,198.1L993.6,198.3L988.2,202.4L990.2,208.9L984.6,205.0L979.0,208.9L981.0,202.4L975.6,198.3L982.4,198.1ZM990.6,191.9L992.9,198.4L999.7,198.5L994.2,202.6L996.2,209.1L990.6,205.2L985.0,209.1L987.0,202.6L981.6,198.5L988.4,198.4ZM996.7,192.2L998.9,198.6L1005.7,198.7L1000.3,202.8L1002.2,209.4L996.7,205.5L991.1,209.4L993.0,202.8L987.6,198.7L994.4,198.6ZM1002.7,192.4L1004.9,198.8L1011.7,199.0L1006.3,203.1L1008.3,209.6L1002.7,205.7L997.1,209.6L999.1,203.1L993.7,199.0L1000.5,198.8ZM1008.7,192.6L1010.9,199.1L1017.8,199.2L1012.3,203.3L1014.3,209.8L1008.7,205.9L1003.1,209.8L1005.1,203.3L999.7,199.2L1006.5,199.1ZM1014.7,192.8L1017.0,199.3L1023.8,199.4L1018.4,203.5L1020.3,210.0L1014.7,206.1L1009.2,210.0L1011.1,203.5L1005.7,199.4L1012.5,199.3ZM1020.8,193.1L1023.0,199.5L1029.8,199.6L1024.4,203.7L1026.4,210.3L1020.8,206.4L1015.2,210.3L1017.2,203.7L1011.7,199.6L1018.5,199.5ZM1026.8,193.3L1029.0,199.7L1035.8,199.9L1030.4,204.0L1032.4,210.5L1026.8,206.6L1021.2,210.5L1023.2,204.0L1017.8,199.9L1024.6,199.7ZM1032.8,193.5L1035.1,199.9L1041.9,200.1L1036.4,204.2L1038.4,210.7L1032.8,206.8L1027.3,210.7L1029.2,204.2L1023.8,200.1L1030.6,199.9ZM1038.9,193.7L1041.1,200.1L1047.9,200.3L1042.5,204.4L1044.4,210.9L1038.9,207.0L1033.3,210.9L1035.3,204.4L1029.8,200.3L1036.6,200.1ZM1044.9,193.9L1047.1,200.4L1053.9,200.5L1048.5,204.6L1050.5,211.1L1044.9,207.2L1039.3,211.1L1041.3,204.6L1035.9,200.5L1042.7,200.4ZM1050.9,194.1L1053.2,200.6L1060.0,200.7L1054.5,204.8L1056.5,211.3L1050.9,207.4L1045.3,211.3L1047.3,204.8L1041.9,200.7L1048.7,200.6ZM1057.0,194.4L1059.2,200.8L1066.0,200.9L1060.6,205.0L1062.5,211.5L1057.0,207.7L1051.4,211.5L1053.3,205.0L1047.9,200.9L1054.7,200.8ZM1063.0,194.6L1065.2,201.0L1072.0,201.1L1066.6,205.2L1068.6,211.7L1063.0,207.9L1057.4,211.7L1059.4,205.2L1054.0,201.1L1060.8,201.0ZM1069.0,194.8L1071.2,201.2L1078.1,201.3L1072.6,205.4L1074.6,212.0L1069.0,208.1L1063.4,212.0L1065.4,205.4L1060.0,201.3L1066.8,201.2ZM1075.0,195.0L1077.3,201.4L1084.1,201.5L1078.7,205.6L1080.6,212.2L1075.0,208.3L1069.5,212.2L1071.4,205.6L1066.0,201.5L1072.8,201.4ZM1081.1,195.2L1083.3,201.6L1090.1,201.7L1084.7,205.8L1086.7,212.4L1081.1,208.5L1075.5,212.4L1077.5,205.8L1072.0,201.7L1078.8,201.6ZM1087.1,195.4L1089.3,201.8L1096.1,201.9L1090.7,206.0L1092.7,212.6L1087.1,208.7L1081.5,212.6L1083.5,206.0L1078.1,201.9L1084.9,201.8ZM1093.1,195.6L1095.4,202.0L1102.2,202.1L1096.7,206.2L1098.7,212.8L1093.1,208.9L1087.6,212.8L1089.5,206.2L1084.1,202.1L1090.9,202.0ZM1099.2,195.8L1101.4,202.2L1108.2,202.3L1102.8,206.4L1104.7,213.0L1099.2,209.1L1093.6,213.0L1095.6,206.4L1090.1,202.3L1096.9,202.2ZM1105.2,196.0L1107.4,202.4L1114.2,202.5L1108.8,206.6L1110.8,213.2L1105.2,209.3L1099.6,213.2L1101.6,206.6L1096.2,202.5L1103.0,202.4ZM1111.2,196.2L1113.5,202.6L1120.3,202.7L1114.8,206.8L1116.8,213.4L1111.2,209.5L1105.6,213.4L1107.6,206.8L1102.2,202.7L1109.0,202.6ZM1117.3,196.4L1119.5,202.8L1126.3,202.9L1120.9,207.0L1122.8,213.5L1117.3,209.7L1111.7,213.5L1113.6,207.0L1108.2,202.9L1115.0,202.8ZM1123.3,196.6L1125.5,203.0L1132.3,203.1L1126.9,207.2L1128.9,213.7L1123.3,209.9L1117.7,213.7L1119.7,207.2L1114.2,203.1L1121.1,203.0ZM1129.3,196.8L1131.5,203.2L1138.3,203.3L1132.9,207.4L1134.9,213.9L1129.3,210.1L1123.7,213.9L1125.7,207.4L1120.3,203.3L1127.1,203.2ZM1135.3,196.9L1137.6,203.4L1144.4,203.5L1139.0,207.6L1140.9,214.1L1135.3,210.2L1129.8,214.1L1131.7,207.6L1126.3,203.5L1133.1,203.4ZM1141.4,197.1L1143.6,203.6L1150.4,203.7L1145.0,207.8L1147.0,214.3L1141.4,210.4L1135.8,214.3L1137.8,207.8L1132.3,203.7L1139.1,203.6ZM1147.4,197.3L1149.6,203.8L1156.4,203.9L1151.0,208.0L1153.0,214.5L1147.4,210.6L1141.8,214.5L1143.8,208.0L1138.4,203.9L1145.2,203.8ZM1153.4,197.5L1155.7,203.9L1162.5,204.1L1157.0,208.2L1159.0,214.7L1153.4,210.8L1147.8,214.7L1149.8,208.2L1144.4,204.1L1151.2,203.9ZM1159.5,197.7L1161.7,204.1L1168.5,204.3L1163.1,208.4L1165.0,214.9L1159.5,211.0L1153.9,214.9L1155.8,208.4L1150.4,204.3L1157.2,204.1ZM1165.5,197.9L1167.7,204.3L1174.5,204.5L1169.1,208.6L1171.1,215.1L1165.5,211.2L1159.9,215.1L1161.9,208.6L1156.5,204.5L1163.3,204.3ZM1171.5,198.1L1173.8,204.5L1180.6,204.7L1175.1,208.8L1177.1,215.3L1171.5,211.4L1165.9,215.3L1167.9,208.8L1162.5,204.7L1169.3,204.5ZM1177.6,198.3L1179.8,204.7L1186.6,204.8L1181.2,208.9L1183.1,215.5L1177.6,211.6L1172.0,215.5L1173.9,208.9L1168.5,204.8L1175.3,204.7ZM1183.6,198.5L1185.8,204.9L1192.6,205.0L1187.2,209.1L1189.2,215.6L1183.6,211.8L1178.0,215.6L1180.0,209.1L1174.5,205.0L1181.3,204.9ZM1189.6,198.6L1191.8,205.1L1198.6,205.2L1193.2,209.3L1195.2,215.8L1189.6,211.9L1184.0,215.8L1186.0,209.3L1180.6,205.2L1187.4,205.1ZM1195.6,198.8L1197.9,205.3L1204.7,205.4L1199.3,209.5L1201.2,216.0L1195.6,212.1L1190.1,216.0L1192.0,209.5L1186.6,205.4L1193.4,205.3ZM1201.7,199.0L1203.9,205.4L1210.7,205.6L1205.3,209.7L1207.3,216.2L1201.7,212.3L1196.1,216.2L1198.1,209.7L1192.6,205.6L1199.4,205.4ZM1207.7,199.2L1209.9,205.6L1216.7,205.8L1211.3,209.9L1213.3,216.4L1207.7,212.5L1202.1,216.4L1204.1,209.9L1198.7,205.8L1205.5,205.6ZM1213.7,199.4L1216.0,205.8L1222.8,205.9L1217.3,210.0L1219.3,216.6L1213.7,212.7L1208.1,216.6L1210.1,210.0L1204.7,205.9L1211.5,205.8ZM1219.8,199.5L1222.0,206.0L1228.8,206.1L1223.4,210.2L1225.3,216.7L1219.8,212.8L1214.2,216.7L1216.1,210.2L1210.7,206.1L1217.5,206.0ZM1225.8,199.7L1228.0,206.1L1234.8,206.3L1229.4,210.4L1231.4,216.9L1225.8,213.0L1220.2,216.9L1222.2,210.4L1216.8,206.3L1223.6,206.1ZM1231.8,199.9L1234.1,206.3L1240.9,206.5L1235.4,210.6L1237.4,217.1L1231.8,213.2L1226.2,217.1L1228.2,210.6L1222.8,206.5L1229.6,206.3ZM1237.9,200.1L1240.1,206.5L1246.9,206.6L1241.5,210.7L1243.4,217.2L1237.9,213.4L1232.3,217.2L1234.2,210.7L1228.8,206.6L1235.6,206.5ZM1243.9,200.2L1246.1,206.7L1252.9,206.8L1247.5,210.9L1249.5,217.4L1243.9,213.5L1238.3,217.4L1240.3,210.9L1234.8,206.8L1241.6,206.7ZM1249.9,200.4L1252.1,206.8L1258.9,207.0L1253.5,211.1L1255.5,217.6L1249.9,213.7L1244.3,217.6L1246.3,211.1L1240.9,207.0L1247.7,206.8ZM1255.9,200.6L1258.2,207.0L1265.0,207.1L1259.6,211.2L1261.5,217.7L1255.9,213.9L1250.4,217.7L1252.3,211.2L1246.9,207.1L1253.7,207.0ZM1262.0,200.7L1264.2,207.2L1271.0,207.3L1265.6,211.4L1267.6,217.9L1262.0,214.0L1256.4,217.9L1258.4,211.4L1252.9,207.3L1259.7,207.2ZM1268.0,200.9L1270.2,207.3L1277.0,207.5L1271.6,211.6L1273.6,218.1L1268.0,214.2L1262.4,218.1L1264.4,211.6L1259.0,207.5L1265.8,207.3ZM1274.0,201.1L1276.3,207.5L1283.1,207.6L1277.6,211.7L1279.6,218.2L1274.0,214.4L1268.4,218.2L1270.4,211.7L1265.0,207.6L1271.8,207.5ZM1280.1,201.2L1282.3,207.6L1289.1,207.8L1283.7,211.9L1285.6,218.4L1280.1,214.5L1274.5,218.4L1276.4,211.9L1271.0,207.8L1277.8,207.6ZM1286.1,201.4L1288.3,207.8L1295.1,207.9L1289.7,212.1L1291.7,218.6L1286.1,214.7L1280.5,218.6L1282.5,212.1L1277.1,207.9L1283.9,207.8ZM1292.1,201.5L1294.4,208.0L1301.2,208.1L1295.7,212.2L1297.7,218.7L1292.1,214.8L1286.5,218.7L1288.5,212.2L1283.1,208.1L1289.9,208.0ZM1298.2,201.7L1300.4,208.1L1307.2,208.3L1301.8,212.4L1303.7,218.9L1298.2,215.0L1292.6,218.9L1294.5,212.4L1289.1,208.3L1295.9,208.1ZM1304.2,201.9L1306.4,208.3L1313.2,208.4L1307.8,212.5L1309.8,219.0L1304.2,215.2L1298.6,219.0L1300.6,212.5L1295.1,208.4L1301.9,208.3ZM1310.2,202.0L1312.4,208.4L1319.2,208.6L1313.8,212.7L1315.8,219.2L1310.2,215.3L1304.6,219.2L1306.6,212.7L1301.2,208.6L1308.0,208.4ZM1316.2,202.2L1318.5,208.6L1325.3,208.7L1319.9,212.8L1321.8,219.3L1316.2,215.5L1310.7,219.3L1312.6,212.8L1307.2,208.7L1314.0,208.6ZM1322.3,202.3L1324.5,208.7L1331.3,208.9L1325.9,213.0L1327.9,219.5L1322.3,215.6L1316.7,219.5L1318.7,213.0L1313.2,208.9L1320.0,208.7ZM1328.3,202.5L1330.5,208.9L1337.3,209.0L1331.9,213.1L1333.9,219.6L1328.3,215.8L1322.7,219.6L1324.7,213.1L1319.3,209.0L1326.1,208.9ZM1334.3,202.6L1336.6,209.0L1343.4,209.2L1337.9,213.3L1339.9,219.8L1334.3,215.9L1328.7,219.8L1330.7,213.3L1325.3,209.2L1332.1,209.0ZM1340.4,202.8L1342.6,209.2L1349.4,209.3L1344.0,213.4L1345.9,219.9L1340.4,216.1L1334.8,219.9L1336.7,213.4L1331.3,209.3L1338.1,209.2ZM1346.4,202.9L1348.6,209.3L1355.4,209.5L1350.0,213.6L1352.0,220.1L1346.4,216.2L1340.8,220.1L1342.8,213.6L1337.4,209.5L1344.2,209.3ZM1352.4,203.1L1354.7,209.5L1361.5,209.6L1356.0,213.7L1358.0,220.2L1352.4,216.4L1346.8,220.2L1348.8,213.7L1343.4,209.6L1350.2,209.5ZM1358.5,203.2L1360.7,209.6L1367.5,209.8L1362.1,213.9L1364.0,220.4L1358.5,216.5L1352.9,220.4L1354.8,213.9L1349.4,209.8L1356.2,209.6ZM1364.5,203.3L1366.7,209.8L1373.5,209.9L1368.1,214.0L1370.1,220.5L1364.5,216.6L1358.9,220.5L1360.9,214.0L1355.4,209.9L1362.2,209.8ZM1370.5,203.5L1372.7,209.9L1379.5,210.0L1374.1,214.2L1376.1,220.7L1370.5,216.8L1364.9,220.7L1366.9,214.2L1361.5,210.0L1368.3,209.9ZM1376.5,203.6L1378.8,210.0L1385.6,210.2L1380.2,214.3L1382.1,220.8L1376.5,216.9L1371.0,220.8L1372.9,214.3L1367.5,210.2L1374.3,210.0ZM1382.6,203.8L1384.8,210.2L1391.6,210.3L1386.2,214.4L1388.2,220.9L1382.6,217.1L1377.0,220.9L1379.0,214.4L1373.5,210.3L1380.3,210.2ZM1388.6,203.9L1390.8,210.3L1397.6,210.5L1392.2,214.6L1394.2,221.1L1388.6,217.2L1383.0,221.1L1385.0,214.6L1379.6,210.5L1386.4,210.3Z"/>
</g>
<g stroke="#262626" stroke-width="1.3" fill="none">
<path d="M188.65,51.3V642.4H1388.1999999999998"/>
<path d="M785.6,642.4v-12M785.6,51.3v12"/>
<path d="M1087.1,642.4v-12M1087.1,51.3v12"/>
<path d="M188.65,332.1h12M1388.6,332.1h-12"/>
<path d="M188.65,191.5h6M1388.6,191.5h-6"/>
<path d="M188.65,472.7h6M1388.6,472.7h-6"/>
</g>
<g fill="#262626" font-size="41">
<text x="484.1" y="693" text-anchor="middle">50</text>
<text x="785.6" y="693" text-anchor="middle">100</text>
<text x="1087.1" y="693" text-anchor="middle">150</text>
<text x="1388.6" y="693" text-anchor="middle">200</text>
<text x="177.2" y="71.8" text-anchor="end">10<tspan font-size="32.6" dy="-20.5">10</tspan></text>
<text x="177.2" y="354.4" text-anchor="end">10<tspan font-size="32.6" dy="-20.5">0</tspan></text>
<text x="177.2" y="635.6" text-anchor="end">10<tspan font-size="32.6" dy="-20.5">-10</tspan></text>
</g>
<text x="788.9" y="745" font-size="45.2" fill="#262626" text-anchor="middle">POD Mode</text>
<text transform="translate(56,346.4) rotate(-90)" font-size="45.2" fill="#262626" text-anchor="middle">Singular value</text>
<rect x="1155.5" y="62.5" width="221.7" height="102" fill="#fff" stroke="#262626" stroke-width="1.3"/>
<g fill="none">
<path d="M1159,88.3H1199" stroke="#0072BD" stroke-width="3" stroke-dasharray="3 2.3"/>
<circle cx="1180.2" cy="88.8" r="10.0" stroke="#0072BD" stroke-width="2.7"/>
<path d="M1159,138.2H1199" stroke="#D95319" stroke-width="3" stroke-dasharray="3 2.3"/>
<path d="M1180.0,129.3L1182.2,135.7L1189.0,135.9L1183.6,140.0L1185.6,146.5L1180.0,142.6L1174.4,146.5L1176.4,140.0L1171.0,135.9L1177.8,135.7Z" stroke="#D95319" stroke-width="2.7" stroke-linejoin="round"/>
</g>
<g fill="#000" font-size="40.3">
<text x="1204.5" y="103.2">Cylinder</text>
<text x="1204.5" y="153.2">SST</text>
</g>
</svg></body></html>
